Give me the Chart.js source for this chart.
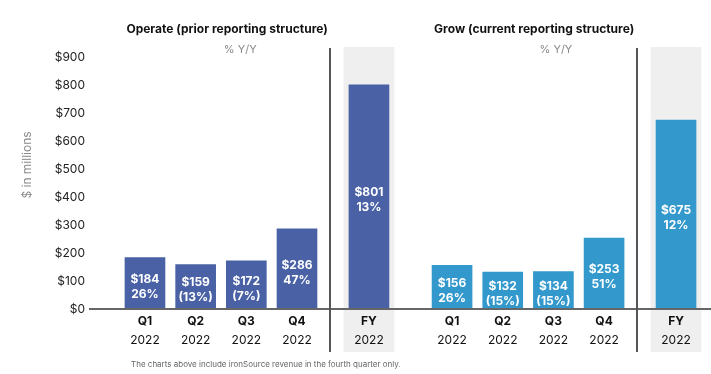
<!DOCTYPE html>
<html lang="en">
<head>
<meta charset="UTF-8">
<title>Operate and Grow revenue 2022</title>
<script src="https://cdn.jsdelivr.net/npm/chart.js@4"></script>
<style>
  body { margin: 0; background: #fff; }
</style>
</head>
<body>
<canvas id="revChart" width="711" height="374"></canvas>
<script>
// data
const periods = ['Q1', 'Q2', 'Q3', 'Q4', 'FY'];
const years = ['2022', '2022', '2022', '2022', '2022'];
const groupTitles = ['Operate (prior reporting structure)', 'Grow (current reporting structure)'];
const operateRevenue = [184, 159, 172, 286, 801];
const operateYoY = [26, -13, -7, 47, 13];
const growRevenue = [156, 132, 134, 253, 675];
const growYoY = [26, -15, -15, 51, 12];
const yTicks = [0, 100, 200, 300, 400, 500, 600, 700, 800, 900];
const footnote = 'The charts above include ironSource revenue in the fourth quarter only.';

// layout in x-units (one unit = spacing between quarters)
const FY_GAP = 1.42, SEP_GAP = 0.65, GROUP_GAP = 1.64;
const TITLE_OFF = 1.62, YOY_OFF = [1.88, 2.05];
const groupStarts = [0];
groupStarts.push(groupStarts[0] + 3 + FY_GAP + GROUP_GAP);

function slotsFor(start) {
  return periods.map((p, i) => i < 4 ? start + i : start + 3 + FY_GAP);
}
const slots = groupStarts.flatMap(slotsFor);
const fySlots = groupStarts.map(s => s + 3 + FY_GAP);
const sepSlots = groupStarts.map(s => s + 3 + SEP_GAP);

const fmtYoY = v => v < 0 ? '(' + Math.abs(v) + '%)' : v + '%';
const yoyLabels = [operateYoY.map(fmtYoY), growYoY.map(fmtYoY)];

const FONT = 'Inter, "Noto Sans", sans-serif';

const decorations = {
  id: 'decorations',
  beforeDraw(chart) {
    const ctx = chart.ctx, x = chart.scales.x;
    ctx.save();
    ctx.fillStyle = '#efefef';
    fySlots.forEach(s => {
      const l = x.getPixelForValue(s - 0.5), r = x.getPixelForValue(s + 0.5);
      ctx.fillRect(l, 47, r - l, 305);
    });
    ctx.restore();
  },
  afterDatasetsDraw(chart) {
    const ctx = chart.ctx;
    ctx.save();
    ctx.fillStyle = '#fff';
    ctx.font = 'bold 12px ' + FONT;
    ctx.textAlign = 'center';
    ctx.textBaseline = 'middle';
    chart.data.datasets.forEach((ds, d) => {
      chart.getDatasetMeta(d).data.forEach((bar, i) => {
        const mid = (bar.y + bar.base) / 2;
        ctx.fillText('$' + ds.data[i].y, bar.x, mid - 4);
        ctx.fillText(yoyLabels[d][i], bar.x, mid + 11);
      });
    });
    ctx.restore();
  },
  afterDraw(chart) {
    const ctx = chart.ctx, x = chart.scales.x;
    ctx.save();
    // vertical separators before FY
    ctx.strokeStyle = '#555';
    ctx.lineWidth = 2;
    sepSlots.forEach(s => {
      const px = Math.round(x.getPixelForValue(s));
      ctx.beginPath();
      ctx.moveTo(px, 48);
      ctx.lineTo(px, 352);
      ctx.stroke();
    });
    ctx.textAlign = 'center';
    ctx.textBaseline = 'middle';
    groupStarts.forEach((s, g) => {
      ctx.fillStyle = '#111';
      ctx.font = 'bold 12px ' + FONT;
      ctx.fillText(groupTitles[g], x.getPixelForValue(s + TITLE_OFF), 29);
      ctx.fillStyle = '#8a8a8a';
      ctx.font = '11px ' + FONT;
      ctx.fillText('% Y/Y', x.getPixelForValue(s + YOY_OFF[g]), 50);
    });
    // y axis title
    ctx.save();
    ctx.translate(27, 165);
    ctx.rotate(-Math.PI / 2);
    ctx.fillStyle = '#8a8a8a';
    ctx.font = '12px ' + FONT;
    ctx.fillText('$ in millions', 0, 0);
    ctx.restore();
    // footnote
    ctx.textAlign = 'left';
    ctx.fillStyle = '#666';
    ctx.font = '8px ' + FONT;
    ctx.fillText(footnote, 131, 365);
    ctx.restore();
  }
};

const toPoints = (vals, start) => vals.map((v, i) => ({ x: slotsFor(start)[i], y: v }));

new Chart(document.getElementById('revChart'), {
  type: 'bar',
  data: {
    datasets: [
      { label: 'Operate', data: toPoints(operateRevenue, groupStarts[0]), backgroundColor: '#4a62a5' },
      { label: 'Grow', data: toPoints(growRevenue, groupStarts[1]), backgroundColor: '#3399cc' }
    ]
  },
  options: {
    responsive: false,
    animation: false,
    devicePixelRatio: 1,
    grouped: false,
    barThickness: 40,
    layout: { padding: { top: 57, bottom: 25, left: 0, right: 0 } },
    plugins: { legend: { display: false }, tooltip: { enabled: false } },
    scales: {
      x: {
        type: 'linear',
        position: 'bottom',
        weight: 0,
        min: -1.085,
        max: 11.17,
        offset: false,
        grid: { display: false, drawTicks: false },
        border: { display: true, color: '#666', width: 2, z: 1 },
        afterBuildTicks: s => { s.ticks = slots.map(v => ({ value: v })); },
        afterFit: s => { s.height = 20; },
        ticks: {
          autoSkip: false,
          maxRotation: 0,
          padding: 5,
          color: '#111',
          font: { family: FONT, size: 12, weight: 'bold' },
          callback: (v, i) => periods[i % periods.length]
        }
      },
      x2: {
        type: 'linear',
        position: 'bottom',
        weight: 1,
        min: -1.085,
        max: 11.17,
        offset: false,
        grid: { display: false, drawTicks: false },
        border: { display: false },
        afterBuildTicks: s => { s.ticks = slots.map(v => ({ value: v })); },
        afterFit: s => { s.height = 20; },
        ticks: {
          autoSkip: false,
          maxRotation: 0,
          padding: 4,
          color: '#111',
          font: { family: FONT, size: 12 },
          callback: (v, i) => years[i % years.length]
        }
      },
      y: {
        min: yTicks[0],
        max: yTicks[yTicks.length - 1],
        grid: { display: false, drawTicks: false },
        border: { display: false },
        afterFit: s => { s.width = 90; },
        afterBuildTicks: s => { s.ticks = yTicks.map(v => ({ value: v })); },
        ticks: {
          padding: 5,
          color: '#222',
          font: { family: FONT, size: 12 },
          callback: v => '$' + v
        }
      }
    }
  },
  plugins: [decorations]
});
</script>
</body>
</html>
